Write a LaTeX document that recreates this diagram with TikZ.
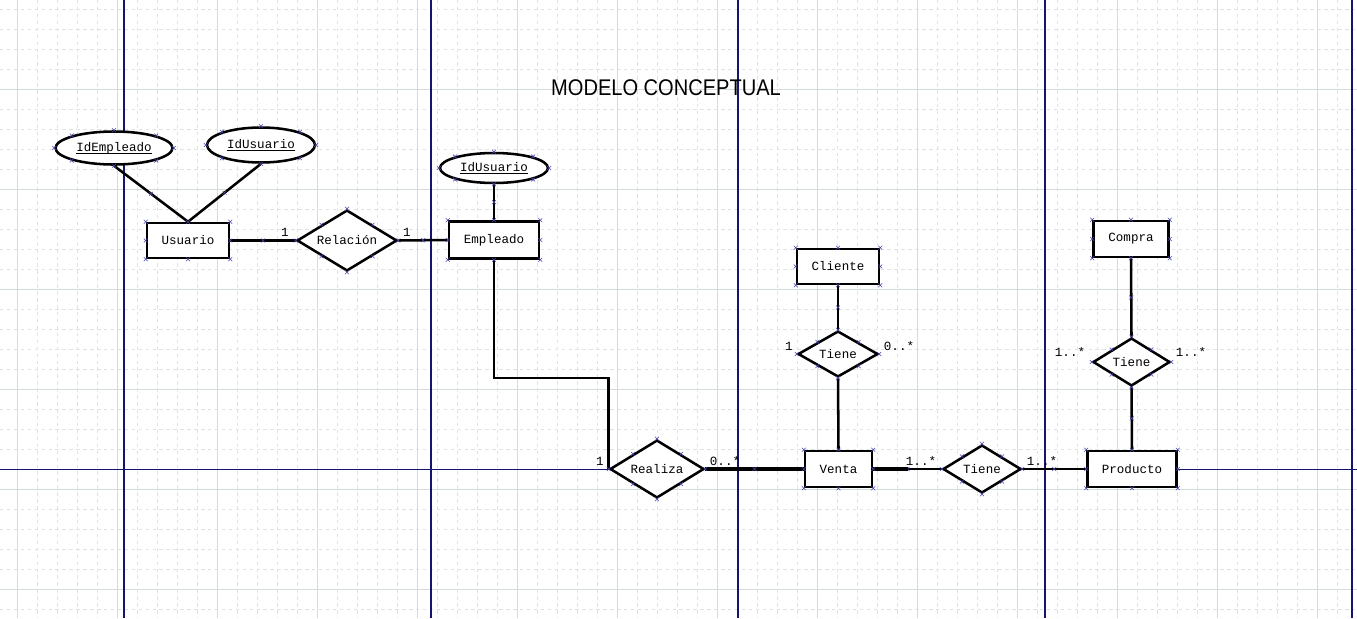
\documentclass[tikz,border=0pt]{standalone}
\usepackage{fontspec}
\setmainfont{Liberation Sans}
\newfontfamily\monof{Liberation Mono}
\usetikzlibrary{shapes.geometric,shapes.misc}
\definecolor{gridmin}{RGB}{222,228,228}
\definecolor{gridmaj}{RGB}{212,220,220}
\definecolor{pageline}{RGB}{20,20,110}
\definecolor{mkcol}{RGB}{70,70,170}
\newcommand{\mkall}[1]{\foreach \a in {north west,north,north east,east,south east,south,south west,west} \node[xmk] at (#1.\a) {};}
\newcommand{\ulx}[1]{\rlap{\underline{\smash{\phantom{#1}}}}#1}
\begin{document}
\begin{tikzpicture}[x=0.75pt,y=-0.75pt,
  txt/.style={font=\monof\fontsize{9.4}{11}\selectfont},
  ent/.style={txt, draw=black, line width=1.9pt, fill=white, rectangle, inner sep=0pt},
  rel/.style={txt, draw=black, line width=1.9pt, fill=white, diamond, aspect=2, inner sep=0pt},
  att/.style={txt, draw=black, line width=1.9pt, fill=white, ellipse, inner sep=0pt},
  conn/.style={line width=1.9pt, draw=black},
  card/.style={txt, inner sep=0pt},
  xmk/.style={cross out, draw=mkcol, line width=0.45pt, minimum size=2.4pt, inner sep=0pt},
  gminor/.style={draw=gridmin, line width=0.75pt, dash pattern=on 2.6pt off 2.6pt},
  gmajor/.style={draw=gridmaj, line width=0.75pt},
  pline/.style={draw=pageline, line width=0.8pt}
]
\useasboundingbox[fill=white] (0,0) rectangle (1357,618);
% grid
\foreach \x in {17,37,...,1337} \draw[gminor] (\x,0) -- (\x,618);
\foreach \y in {9,29,...,609} \draw[gminor] (0,\y) -- (1357,\y);
\foreach \x in {17,117,...,1317} \draw[gmajor] (\x,0) -- (\x,618);
\foreach \y in {89,189,...,589} \draw[gmajor] (0,\y) -- (1357,\y);
% page lines
\foreach \x in {124,431,738,1045,1352} \draw[pline] (\x,0) -- (\x,618);
\draw[pline] (0,469.5) -- (1357,469.5);

% title
\node (title) at (666,88) {\fontsize{17}{20}\selectfont\scalebox{0.885}[1]{MODELO CONCEPTUAL}};

% nodes
\node[att, minimum width=117*0.75pt, minimum height=33*0.75pt] (idemp) at (114,148) {\ulx{IdEmpleado}};
\node[att, minimum width=108*0.75pt, minimum height=35*0.75pt] (idusu1) at (261,145) {\ulx{IdUsuario}};
\node[ent, minimum width=82*0.75pt, minimum height=35*0.75pt] (usuario) at (188,240.5) {Usuario};
\node[rel, minimum width=100*0.75pt, minimum height=61*0.75pt] (relacion) at (347,240.5) {Relación};
\node[ent, minimum width=90*0.75pt, minimum height=37*0.75pt] (empleado) at (494,240) {Empleado};
\node[att, minimum width=108*0.75pt, minimum height=30*0.75pt] (idusu2) at (494,168) {\ulx{IdUsuario}};
\node[rel, minimum width=94*0.75pt, minimum height=58*0.75pt] (realiza) at (657,469) {Realiza};
\node[ent, minimum width=67*0.75pt, minimum height=36*0.75pt] (venta) at (838.5,469) {Venta};
\node[ent, minimum width=82*0.75pt, minimum height=35*0.75pt] (cliente) at (838,266.5) {Cliente};
\node[rel, minimum width=80*0.75pt, minimum height=46*0.75pt] (tiene1) at (838,354) {Tiene};
\node[rel, minimum width=78*0.75pt, minimum height=48*0.75pt] (tiene3) at (982,469) {Tiene};
\node[ent, minimum width=89*0.75pt, minimum height=36*0.75pt] (producto) at (1132,469) {Producto};
\node[rel, minimum width=77*0.75pt, minimum height=48*0.75pt] (tiene2) at (1131.5,362) {Tiene};
\node[ent, minimum width=75*0.75pt, minimum height=36*0.75pt] (compra) at (1131,239) {Compra};

% connectors
\draw[conn] (idemp.south) -- node[midway, xmk]{} (usuario.north);
\draw[conn] (idusu1.south) -- node[midway, xmk]{} (usuario.north);
\draw[conn] (usuario.east) -- node[midway, xmk]{} (relacion.west);
\draw[conn] (relacion.east) -- node[midway, xmk]{} (empleado.west);
\draw[conn] (idusu2.south) -- node[midway, xmk]{} (empleado.north);
\draw[conn] (empleado.south) -- ++(0,118) -| (realiza.west);
\draw[conn, line width=2.6pt] (realiza.east) -- node[midway, xmk]{} (venta.west);
\draw[conn] (cliente.south) -- node[midway, xmk]{} (tiene1.north);
\draw[conn] (tiene1.south) -- (venta.north);
\draw[conn] (venta.east) -- node[midway, xmk](vt){} (tiene3.west);
\draw[conn, line width=2.6pt] (venta.east) -- (vt.center);
\draw[conn] (tiene3.east) -- node[midway, xmk]{} (producto.west);
\draw[conn] (compra.south) -- node[midway, xmk]{} (tiene2.north);
\draw[conn] (tiene2.south) -- node[midway, xmk]{} (producto.north);

% markers
\mkall{idemp}\mkall{idusu1}\mkall{idusu2}\mkall{usuario}\mkall{relacion}\mkall{empleado}
\mkall{realiza}\mkall{venta}\mkall{cliente}\mkall{tiene1}\mkall{tiene3}\mkall{producto}
\mkall{tiene2}\mkall{compra}

% cardinalities
\node[card] (c1) at (285,232) {1};
\node[card] (c2) at (407,232) {1};
\node[card] (c3) at (600,461) {1};
\node[card] (c4) at (725,461) {0..*};
\node[card] (c5) at (789,346) {1};
\node[card] (c6) at (899,346) {0..*};
\node[card] (c7) at (1070,352) {1..*};
\node[card] (c8) at (1191,352) {1..*};
\node[card] (c9) at (921,461) {1..*};
\node[card] (c10) at (1042,461) {1..*};
\end{tikzpicture}
\end{document}
